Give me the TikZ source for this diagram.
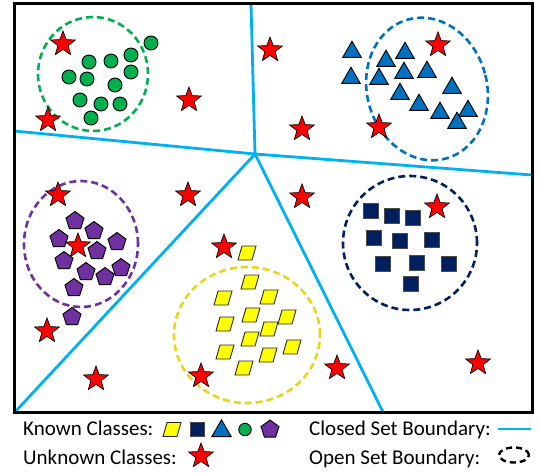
\documentclass[tikz,border=0pt]{standalone}
\usepackage{fontspec}
\setmainfont{Carlito}
\usetikzlibrary{shapes.geometric}
\definecolor{cbound}{RGB}{0,176,240}
\definecolor{cgreen}{RGB}{0,176,80}
\definecolor{cblue}{RGB}{0,112,192}
\definecolor{cpurple}{RGB}{112,48,160}
\definecolor{cnavy}{RGB}{0,32,96}
\definecolor{cyell}{RGB}{255,255,0}
\definecolor{cyelld}{RGB}{232,214,28}
\tikzset{
  unk/.style={star, star points=5, star point ratio=2.4, minimum size=26pt, inner sep=0pt, fill=red, draw=black, line width=0.7pt},
  dot/.style={circle, minimum size=14pt, inner sep=0pt, fill=cgreen, draw=black, line width=0.9pt},
  tri/.style={regular polygon, regular polygon sides=3, minimum size=21.5pt, inner sep=0pt, fill=cblue, draw=black, line width=0.9pt},
  pent/.style={regular polygon, regular polygon sides=5, minimum size=19pt, inner sep=0pt, fill=cpurple, draw=black, line width=0.9pt},
  sq/.style={rectangle, minimum size=15pt, inner sep=0pt, fill=cnavy, draw=black!70, line width=0.9pt},
  openb/.style={ellipse, draw=#1, line width=2.6pt, dash pattern=on 7pt off 4pt, inner sep=0pt},
  bline/.style={cbound, line width=2.8pt},
  lab/.style={anchor=base west, inner sep=0pt, font=\fontsize{21}{24}\selectfont},
  para/.pic={\draw[fill=cyell, draw=black!85, line width=0.9pt] (-9,7) -- (5,7) -- (9,-7) -- (-5,-7) -- cycle;}
}
\begin{document}
\begin{tikzpicture}[x=1pt,y=-1pt]
\useasboundingbox (0,0) rectangle (540,472);
% closed set boundaries
\coordinate (J) at (255,154);
\coordinate (bt) at (251,4);
\coordinate (bl) at (14,131);
\coordinate (br) at (532,175);
\coordinate (bbl) at (15,412);
\coordinate (bbr) at (383,412);
\draw[bline] (J) -- (bt);
\draw[bline] (J) -- (bl);
\draw[bline] (J) -- (br);
\draw[bline] (J) -- (bbl);
\draw[bline] (J) -- (bbr);
% open set boundaries
\node[openb=cgreen, minimum width=110pt, minimum height=114pt] (eg) at (93,74) {};
\node[openb=cblue, minimum width=120pt, minimum height=144pt, rotate=15] (eb) at (427,89) {};
\node[openb=cpurple, minimum width=114pt, minimum height=126pt] (ep) at (81,244) {};
\node[openb=cnavy, minimum width=134pt, minimum height=134pt] (en) at (410,243) {};
\node[openb=cyelld, minimum width=146pt, minimum height=136pt] (ey) at (247,335) {};
% green circles
\foreach \x/\y [count=\i] in {151/43,89/62,111/61,131/55,69/77,87/79,131/72,115/85,80/100,101/104,120/104,91/118}
  \node[dot] (g\i) at (\x,\y) {};
% blue triangles
\foreach \x/\y [count=\i] in {352/52,351/78,386/61,405/53,379/79,404/73,427/72,400/94,452/88,419/105,440/113,468/111,457/123}
  \node[tri] (t\i) at (\x,\y) {};
% purple pentagons
\foreach \x/\y [count=\i] in {75/221,94/231,59/239,117/242,97/251,64/261,86/272,105/277,121/268,74/288,72/317}
  \node[pent] (p\i) at (\x,\y) {};
% navy squares
\foreach \x/\y [count=\i] in {371/211,392/216,413/218,374/238,400/241,432/240,383/264,417/263,449/264,411/284}
  \node[sq] (q\i) at (\x,\y) {};
% yellow parallelograms
\foreach \x/\y [count=\i] in {247/253,250/282,223/298,269/297,251/315,225/324,287/317,269/329,250/339,225/352,268/355,292/347,244/368}
  \pic at (\x,\y) {para};
% unknown stars
\foreach \x/\y [count=\i] in {63/44,270/50,438/45,189/100,48/120,302/129,379/127,58/195,188/195,302/197,437/207,78/246,224/247,47/331,96/379,201/376,337/368,478/363}
  \node[unk] (s\i) at (\x,\y) {};
% frame
\draw[line width=3pt] (14,3) rectangle (532,412);
% legend
\node[lab] (lk) at (23,435) {Known Classes:};
\node[lab] (lu) at (23,464) {Unknown Classes:};
\node[lab] (lc) at (309,435) {Closed Set Boundary:};
\node[lab] (lo) at (309,464) {Open Set Boundary:};
\pic at (172,429.5) {para};
\node[sq, minimum size=13.5pt] (lsq) at (197.5,429.5) {};
\node[tri, minimum size=22.5pt] (ltri) at (221.5,431) {};
\node[dot, minimum size=12.5pt] (ldot) at (245,429.5) {};
\node[pent] (lpent) at (270,429.5) {};
\node[unk] (lstar) at (201,456) {};
\coordinate (lb1) at (498,429);
\coordinate (lb2) at (531,429);
\draw[bline] (lb1) -- (lb2);
\node[ellipse, draw=black, line width=2.4pt, dash pattern=on 6pt off 4pt, minimum width=30pt, minimum height=15pt, inner sep=0pt] (lo2) at (514,455) {};
\end{tikzpicture}
\end{document}
